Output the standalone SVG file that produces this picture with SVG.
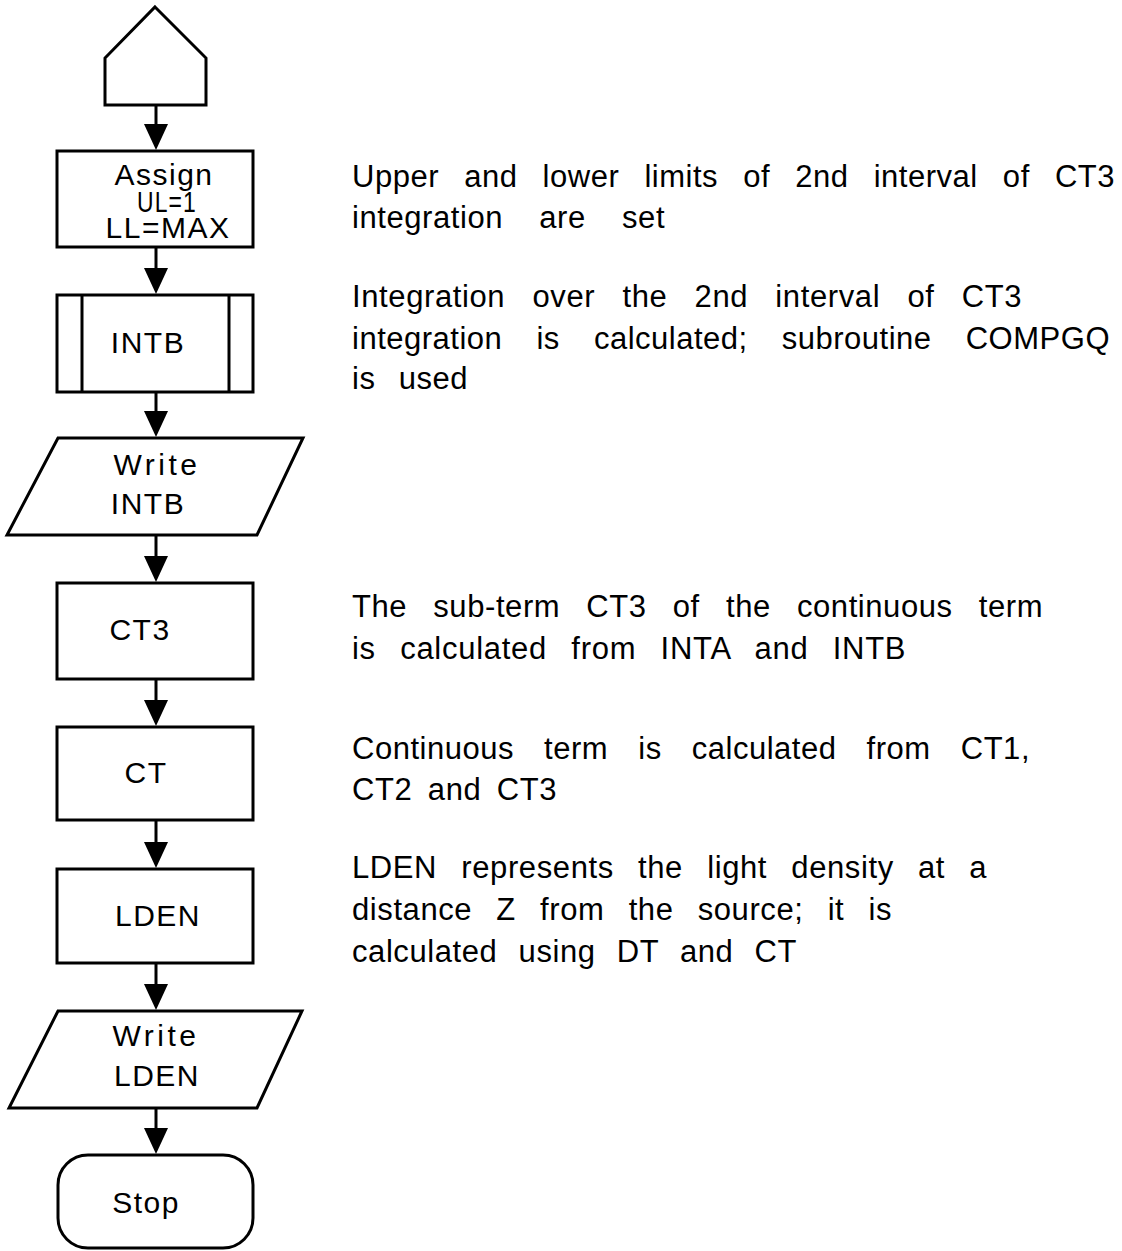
<svg xmlns="http://www.w3.org/2000/svg" width="1122" height="1251" viewBox="0 0 1122 1251">
<style>
.shape{fill:#fff;stroke:#000;stroke-width:3;stroke-linejoin:miter}
.edge{fill:none;stroke:#000;stroke-width:3}
.nt{font-family:"Liberation Sans",Arial,sans-serif;font-size:30px;letter-spacing:1.5px;fill:#000;text-anchor:middle}
.wr{letter-spacing:3.5px}
.rt{font-family:"Liberation Sans",Arial,sans-serif;font-size:31px;letter-spacing:0.5px;fill:#000}
</style>
<defs>
<polygon id="ah" points="-12,0 12,0 0,26" fill="#000"/>
</defs>
<rect width="1122" height="1251" fill="#fff"/>
<g id="connectors">
<path class="edge" d="M156,105 V140"/>
<path class="edge" d="M156,247 V284"/>
<path class="edge" d="M156,392 V428"/>
<path class="edge" d="M156,535 V572"/>
<path class="edge" d="M156,679 V716"/>
<path class="edge" d="M156,820 V858"/>
<path class="edge" d="M156,963 V1000"/>
<path class="edge" d="M156,1108 V1144"/>
<use href="#ah" x="156" y="124"/>
<use href="#ah" x="156" y="268"/>
<use href="#ah" x="156" y="411"/>
<use href="#ah" x="156" y="556"/>
<use href="#ah" x="156" y="700"/>
<use href="#ah" x="156" y="842"/>
<use href="#ah" x="156" y="984"/>
<use href="#ah" x="156" y="1128"/>
</g>
<g id="start">
<polygon class="shape" points="155,7 206,58 206,105 105,105 105,58"/>
</g>
<g id="assign">
<rect class="shape" x="57" y="151" width="196" height="96"/>
<text class="nt" x="164" y="185" font-size="30">Assign</text>
<text class="nt" x="167" y="212" font-size="27" letter-spacing="0" textLength="60" lengthAdjust="spacingAndGlyphs">UL=1</text>
<text class="nt" x="168" y="238" font-size="28" letter-spacing="0">LL=MAX</text>
</g>
<g id="intb">
<rect class="shape" x="57" y="295" width="196" height="97"/>
<line class="edge" x1="82" y1="295" x2="82" y2="392"/>
<line class="edge" x1="229" y1="295" x2="229" y2="392"/>
<text class="nt" x="148" y="353">INTB</text>
</g>
<g id="write-intb">
<polygon class="shape" points="58,438 303,438 257,535 7,535"/>
<text class="nt wr" x="157" y="475">Write</text>
<text class="nt" x="148" y="514">INTB</text>
</g>
<g id="ct3">
<rect class="shape" x="57" y="583" width="196" height="96"/>
<text class="nt" x="140" y="640">CT3</text>
</g>
<g id="ct">
<rect class="shape" x="57" y="727" width="196" height="93"/>
<text class="nt" x="146" y="783">CT</text>
</g>
<g id="lden">
<rect class="shape" x="57" y="869" width="196" height="94"/>
<text class="nt" x="158" y="926">LDEN</text>
</g>
<g id="write-lden">
<polygon class="shape" points="58,1011 302,1011 257,1108 9,1108"/>
<text class="nt wr" x="156" y="1046">Write</text>
<text class="nt" x="157" y="1086">LDEN</text>
</g>
<g id="stop">
<rect class="shape" x="58" y="1155" width="195" height="93" rx="30" ry="30"/>
<text class="nt" x="146" y="1213">Stop</text>
</g>
<g id="notes">
<text class="rt" x="352" y="187" word-spacing="16" textLength="763" lengthAdjust="spacing">Upper and lower limits of 2nd interval of CT3</text>
<text class="rt" x="352" y="228" word-spacing="27" textLength="313" lengthAdjust="spacing">integration are set</text>
<text class="rt" x="352" y="307" word-spacing="18" textLength="670" lengthAdjust="spacing">Integration over the 2nd interval of CT3</text>
<text class="rt" x="352" y="349" word-spacing="25" textLength="758" lengthAdjust="spacing">integration is calculated; subroutine COMPGQ</text>
<text class="rt" x="352" y="389" word-spacing="14" textLength="116" lengthAdjust="spacing">is used</text>
<text class="rt" x="352" y="617" word-spacing="17" textLength="691" lengthAdjust="spacing">The sub-term CT3 of the continuous term</text>
<text class="rt" x="352" y="659" word-spacing="15" textLength="554" lengthAdjust="spacing">is calculated from INTA and INTB</text>
<text class="rt" x="352" y="759" word-spacing="21" textLength="678" lengthAdjust="spacing">Continuous term is calculated from CT1,</text>
<text class="rt" x="352" y="800" word-spacing="6" textLength="205" lengthAdjust="spacing">CT2 and CT3</text>
<text class="rt" x="352" y="878" word-spacing="15" textLength="635" lengthAdjust="spacing">LDEN represents the light density at a</text>
<text class="rt" x="352" y="920" word-spacing="15" textLength="540" lengthAdjust="spacing">distance Z from the source; it is</text>
<text class="rt" x="352" y="962" word-spacing="12" textLength="445" lengthAdjust="spacing">calculated using DT and CT</text>
</g>
</svg>
